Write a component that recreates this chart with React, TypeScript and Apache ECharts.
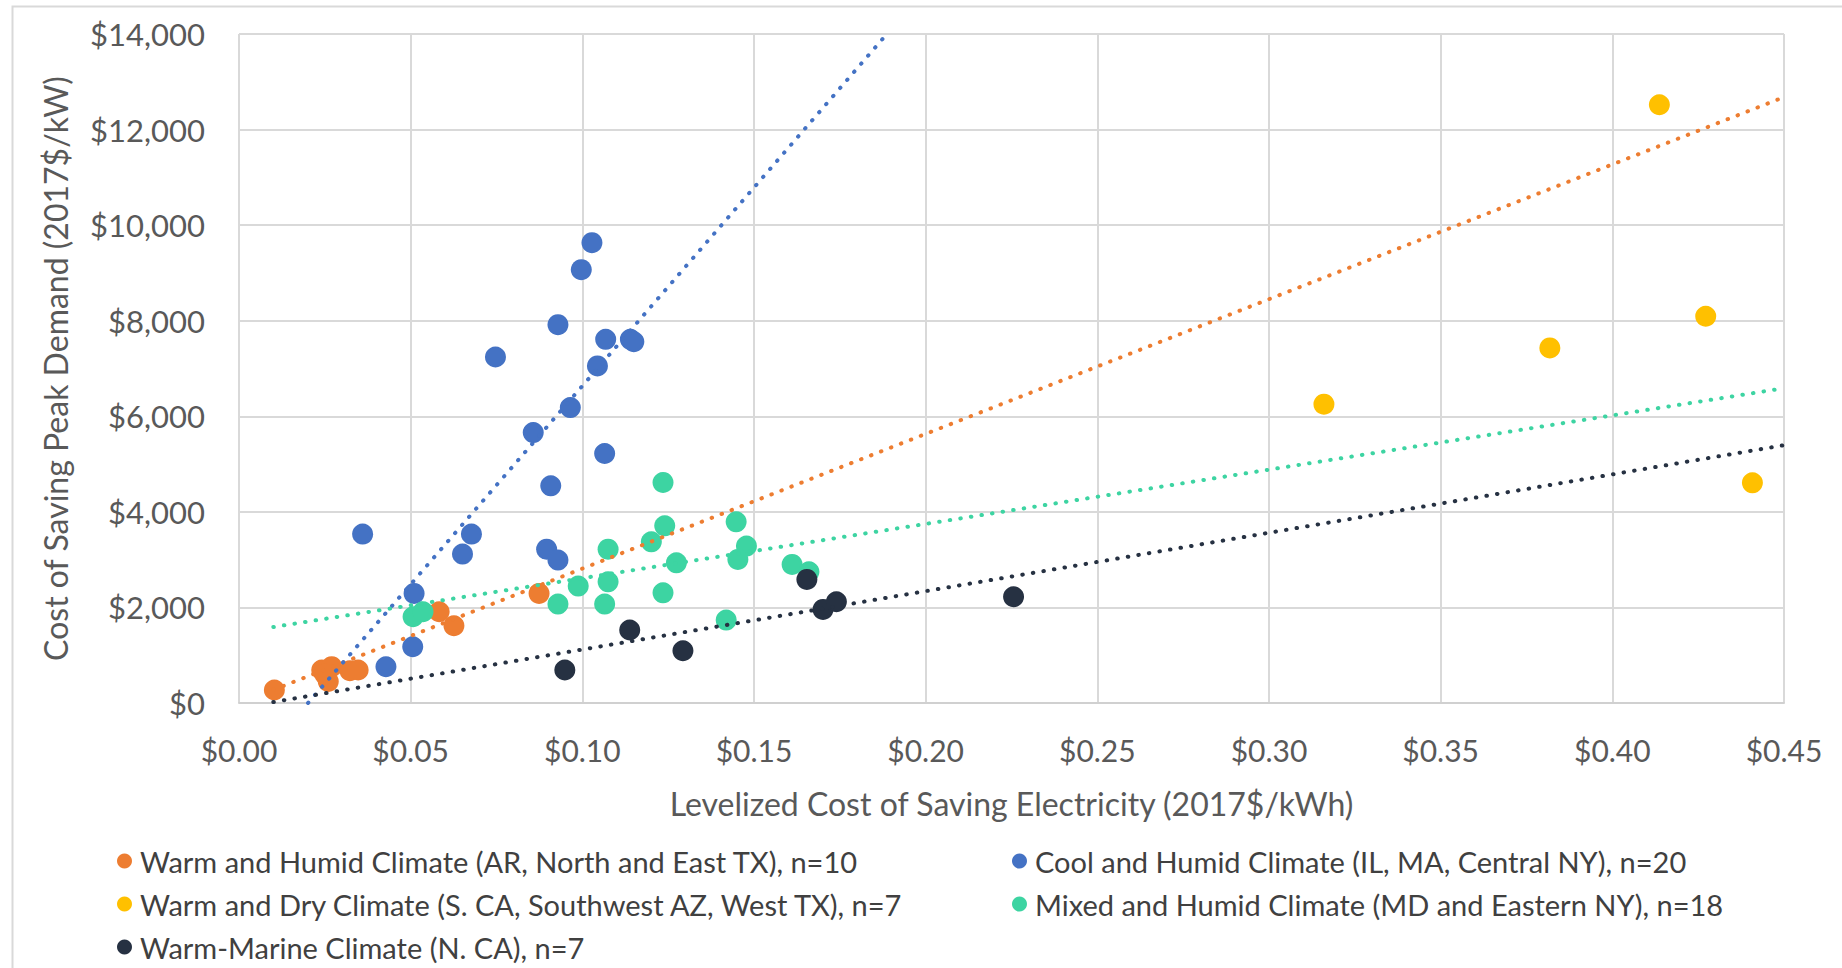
import React, { useEffect, useRef } from "react";
import * as echarts from "echarts";

const seriesNames = [
  "Warm and Humid Climate (AR, North and East TX), n=10",
  "Cool and Humid Climate (IL, MA, Central NY), n=20",
  "Warm and Dry Climate (S. CA, Southwest AZ, West TX), n=7",
  "Mixed and Humid Climate (MD and Eastern NY), n=18",
  "Warm-Marine Climate (N. CA), n=7",
];
const seriesColors = ["#ED7D31", "#4472C4", "#FFC000", "#3DD4A2", "#263142"];

const warmHumid = [
  [0.0103, 272], [0.0241, 690], [0.027, 760], [0.026, 450], [0.025, 600],
  [0.0323, 675], [0.0347, 690], [0.0583, 1909], [0.0626, 1617], [0.0874, 2293],
];
const coolHumid = [
  [0.1028, 9633], [0.0997, 9068], [0.0929, 7918], [0.0747, 7241], [0.1068, 7611],
  [0.114, 7611], [0.115, 7560], [0.1044, 7053], [0.0965, 6183], [0.0857, 5660],
  [0.1065, 5221], [0.0908, 4544], [0.036, 3534], [0.0677, 3534], [0.0651, 3116],
  [0.0896, 3220], [0.0929, 2990], [0.051, 2293], [0.0506, 1177], [0.0428, 759],
];
const warmDry = [
  [0.316, 6253], [0.3818, 7430], [0.4137, 12520], [0.4272, 8093], [0.4408, 4607],
];
const mixedHumid = [
  [0.1235, 4615], [0.124, 3708], [0.1201, 3373], [0.1075, 3220], [0.1274, 2934],
  [0.0988, 2447], [0.1075, 2536], [0.1235, 2306], [0.0929, 2070], [0.1065, 2070],
  [0.0507, 1805], [0.0536, 1909], [0.1448, 3791], [0.1478, 3283], [0.1453, 3004],
  [0.1611, 2900], [0.166, 2746], [0.1419, 1736],
];
const warmMarine = [
  [0.0949, 690], [0.1138, 1527], [0.1293, 1094], [0.1654, 2586], [0.1701, 1959],
  [0.174, 2119], [0.2256, 2223],
];

// trendline end points (Excel linear trendlines)
const warmHumidTrend = [[0.01, 275], [0.45, 12680]];
const coolHumidTrend = [[0.0201, 0], [0.1887, 14000]];
const mixedHumidTrend = [[0.01, 1590], [0.45, 6587]];
const warmMarineTrend = [[0.01, 20], [0.45, 5395]];

const xMin = 0, xMax = 0.45, xStep = 0.05;
const yMin = 0, yMax = 14000, yStep = 2000;

const FONT = "Lato";

export default function App() {
  const ref = useRef<HTMLDivElement>(null);
  useEffect(() => {
    document.body.style.margin = "0";
    const chart = echarts.init(ref.current!, null, { renderer: "svg" });
    const pointSets = [warmHumid, coolHumid, warmDry, mixedHumid, warmMarine];
    const trends: [number, number[][]][] = [
      [0, warmHumidTrend],
      [1, coolHumidTrend],
      [3, mixedHumidTrend],
      [4, warmMarineTrend],
    ];
    const scatterSeries = pointSets.map((d, i) => ({
      name: seriesNames[i],
      type: "scatter",
      data: d,
      symbol: "circle",
      symbolSize: 21,
      itemStyle: { color: seriesColors[i], opacity: 1 },
      z: 2,
    }));
    const trendSeries = trends.map(([i, d]) => ({
      name: "trend" + i,
      type: "line",
      data: d,
      showSymbol: false,
      symbol: "none",
      clip: true,
      silent: true,
      z: 3,
      lineStyle: {
        color: seriesColors[i],
        width: 4,
        type: [0.5, 10.2],
        cap: "round",
      },
    }));
    const legendCommon = {
      orient: "vertical",
      icon: "circle",
      itemWidth: 15,
      itemHeight: 15,
      itemGap: 13,
      padding: 0,
      textStyle: {
        fontFamily: FONT,
        fontSize: 29,
        color: "#404040",
        lineHeight: 30,
        padding: [0, 0, 0, 3],
      },
    };
    chart.setOption({
      animation: false,
      backgroundColor: "#ffffff",
      textStyle: { fontFamily: FONT },
      grid: { left: 239, right: 58, top: 34, bottom: 265 },
      xAxis: {
        type: "value",
        min: xMin,
        max: xMax,
        interval: xStep,
        name: "Levelized Cost of Saving Electricity (2017$/kWh)",
        nameLocation: "middle",
        nameGap: 84,
        nameTextStyle: { fontFamily: FONT, fontSize: 32, color: "#595959" },
        axisLine: { show: true, lineStyle: { color: "#D0D0D0", width: 2 } },
        axisTick: { show: false },
        splitLine: { show: true, lineStyle: { color: "#D9D9D9", width: 2 } },
        axisLabel: {
          fontFamily: FONT,
          fontSize: 30,
          color: "#595959",
          margin: 32,
          formatter: (v: number) => "$" + v.toFixed(2),
        },
      },
      yAxis: {
        type: "value",
        min: yMin,
        max: yMax,
        interval: yStep,
        name: "Cost of Saving Peak Demand (2017$/kW)",
        nameLocation: "middle",
        nameGap: 168,
        nameRotate: 90,
        nameTextStyle: { fontFamily: FONT, fontSize: 32, color: "#595959" },
        axisLine: { show: false },
        axisTick: { show: false },
        splitLine: { show: true, lineStyle: { color: "#D9D9D9", width: 2 } },
        axisLabel: {
          fontFamily: FONT,
          fontSize: 31,
          color: "#595959",
          margin: 34,
          formatter: (v: number) => "$" + v.toLocaleString("en-US"),
        },
      },
      legend: [
        {
          ...legendCommon,
          left: 117,
          top: 846,
          data: [seriesNames[0], seriesNames[2], seriesNames[4]],
        },
        {
          ...legendCommon,
          left: 1012,
          top: 846,
          data: [seriesNames[1], seriesNames[3]],
        },
      ],
      graphic: [
        {
          type: "rect",
          left: 10,
          top: 4,
          shape: { x: 0, y: 0, width: 1900, height: 1000 },
          style: { fill: "none", stroke: "#D9D9D9", lineWidth: 2 },
          silent: true,
        },
      ],
      series: [...scatterSeries, ...trendSeries],
    });
    return () => chart.dispose();
  }, []);
  return <div ref={ref} style={{ width: 1842, height: 968 }} />;
}
